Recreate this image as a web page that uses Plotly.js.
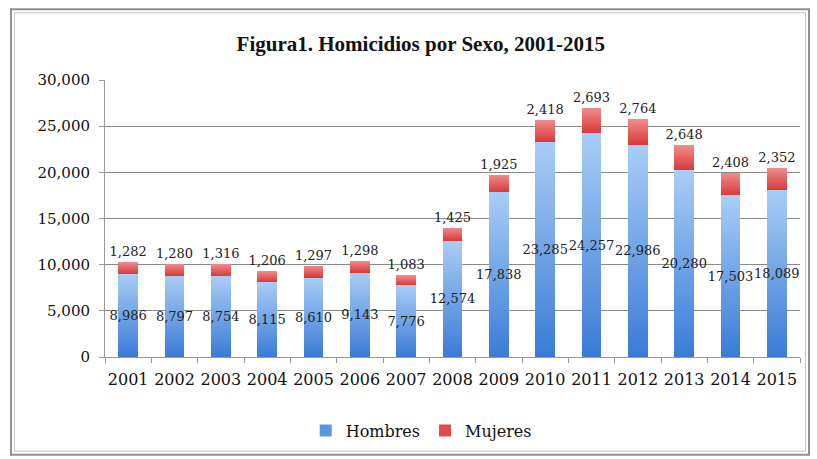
<!DOCTYPE html>
<html>
<head>
<meta charset="utf-8">
<script src="https://cdn.plot.ly/plotly-3.0.1.min.js"></script>
<style>
html,body{margin:0;padding:0;background:#fff;}
#chart{width:817px;height:459px;}
</style>
</head>
<body>
<div id="chart"></div>
<script>
var years = ['2001','2002','2003','2004','2005','2006','2007','2008','2009','2010','2011','2012','2013','2014','2015'];
var hombres = [8986, 8797, 8754, 8115, 8610, 9143, 7776, 12574, 17838, 23285, 24257, 22986, 20280, 17503, 18089];
var mujeres = [1282, 1280, 1316, 1206, 1297, 1298, 1083, 1425, 1925, 2418, 2693, 2764, 2648, 2408, 2352];

function fmt(v){ return v.toLocaleString('en-US'); }

var labelFont = {family: 'DejaVu Serif', size: 13, color: '#222'};

var traces = [
  {
    type: 'bar', name: 'Hombres', x: years, y: hombres,
    marker: {color: '#5b97e0'},
    text: hombres.map(fmt), textposition: 'inside', insidetextanchor: 'middle',
    textangle: 0, constraintext: 'none', textfont: labelFont,
    hoverinfo: 'x+y'
  },
  {
    type: 'bar', name: 'Mujeres', x: years, y: mujeres,
    marker: {color: '#df4c4c'},
    text: mujeres.map(fmt), textposition: 'outside',
    textangle: 0, constraintext: 'none', textfont: labelFont, cliponaxis: false,
    hoverinfo: 'x+y'
  }
];

var L = 105, R = 800, T = 80, B = 358;
function px(x){ return (x - L) / (R - L); }
function py(y){ return (B - y) / (B - T); }

var layout = {
  width: 817, height: 459,
  margin: {l: L, r: 817 - R, t: T, b: 459 - B},
  paper_bgcolor: '#fff', plot_bgcolor: '#fff',
  barmode: 'stack', bargap: 0.57,
  title: {text: '<b>Figura1. Homicidios por Sexo, 2001-2015</b>', x: 0.515, xanchor: 'center', y: 0.905, yanchor: 'middle',
          font: {family: 'Liberation Serif', size: 21, color: '#111'}},
  xaxis: {type: 'category', showline: true, linecolor: '#999', linewidth: 1, tickangle: 0,
          ticks: 'outside', tickson: 'boundaries', ticklen: 5, tickcolor: '#999',
          ticklabelstandoff: 8,
          tickfont: {family: 'DejaVu Serif', size: 16, color: '#111'}, showgrid: false},
  yaxis: {range: [0, 30000], dtick: 5000, tickformat: ',d', showline: true, linecolor: '#999', linewidth: 1,
          ticks: 'outside', ticklen: 5, tickcolor: '#999', gridcolor: '#8a8a8a', gridwidth: 1,
          ticklabelstandoff: 6,
          tickfont: {family: 'DejaVu Serif', size: 15, color: '#111'}, zeroline: false},
  legend: {orientation: 'h', x: 0.455, xanchor: 'center', y: -0.2, yanchor: 'top',
           font: {family: 'DejaVu Serif', size: 16, color: '#111'}, traceorder: 'normal'},
  showlegend: true,
  shapes: [
    {type: 'rect', xref: 'paper', yref: 'paper', x0: px(11), x1: px(809), y0: py(456), y1: py(9),
     line: {color: '#909090', width: 2}, layer: 'below'},
    {type: 'rect', xref: 'paper', yref: 'paper', x0: px(14.5), x1: px(805.5), y0: py(452.5), y1: py(12.5),
     line: {color: '#c4c4c4', width: 1}, layer: 'below'}
  ]
};

function addGradients(gd){
  var svg = gd.querySelector('svg.main-svg');
  if (!svg) return;
  var ns = 'http://www.w3.org/2000/svg';
  var defs = svg.querySelector('defs') || svg.insertBefore(document.createElementNS(ns, 'defs'), svg.firstChild);
  function grad(id, top, bottom){
    var g = document.createElementNS(ns, 'linearGradient');
    g.setAttribute('id', id);
    g.setAttribute('x1', '0'); g.setAttribute('y1', '0');
    g.setAttribute('x2', '0'); g.setAttribute('y2', '1');
    [[0, top], [1, bottom]].forEach(function(s){
      var st = document.createElementNS(ns, 'stop');
      st.setAttribute('offset', s[0]);
      st.setAttribute('stop-color', s[1]);
      g.appendChild(st);
    });
    defs.appendChild(g);
  }
  grad('gBlue', '#a9cdf6', '#3a7bd6');
  grad('gRed', '#f08c8c', '#d8393a');
  var traceGroups = svg.querySelectorAll('.barlayer .trace');
  var ids = ['gBlue', 'gRed'];
  traceGroups.forEach(function(tg, i){
    tg.querySelectorAll('path').forEach(function(p){ p.style.fill = 'url(#' + ids[i] + ')'; });
  });
}

Plotly.newPlot('chart', traces, layout, {displayModeBar: false, staticPlot: true}).then(addGradients);
</script>
</body>
</html>
